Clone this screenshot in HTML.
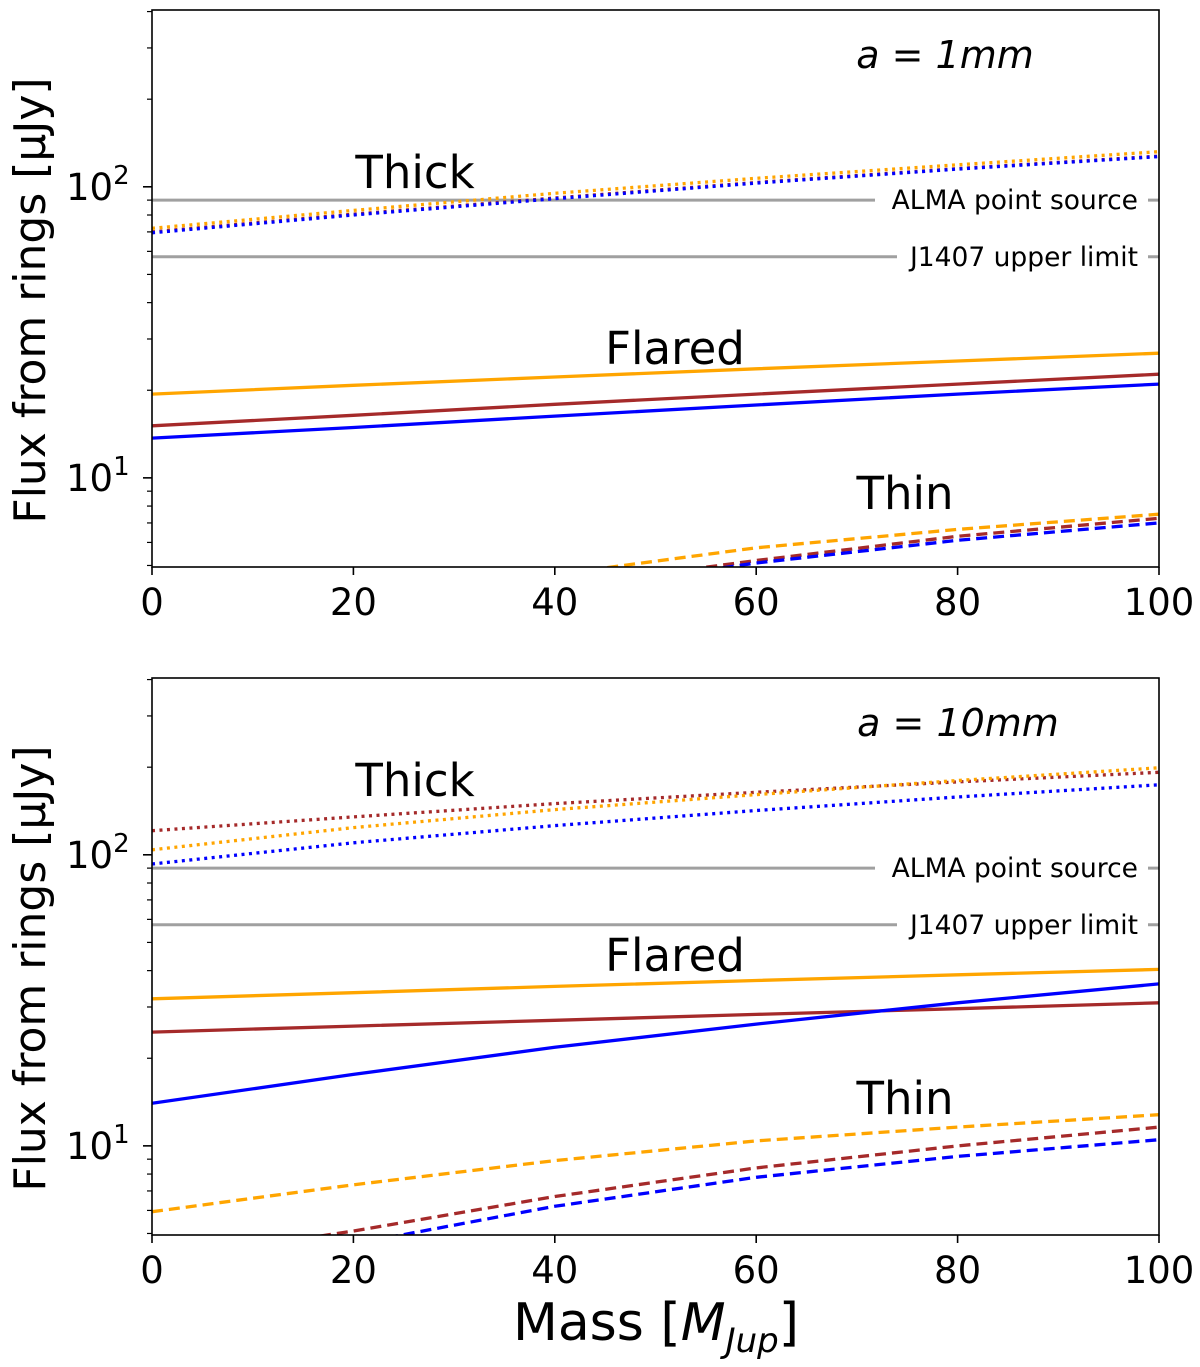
<!DOCTYPE html>
<html><head><meta charset="utf-8"><style>
html,body{margin:0;padding:0;background:#fff;width:1200px;height:1367px;overflow:hidden}
svg text{font-family:"DejaVu Sans","Liberation Sans",sans-serif}
</style></head><body>
<svg id="chart" width="1200" height="1367" xmlns="http://www.w3.org/2000/svg"></svg>
<script>
const masses = [0, 20, 40, 60, 80, 100];
const xTicks = [0, 20, 40, 60, 80, 100];
const refAlma = 90;
const refJ1407 = 57.5;
// panel a=1mm
const p1ThickOrange = [72, 83, 95, 107, 119, 132];
const p1ThickBrown = [70, 80.5, 91.5, 103.5, 115.5, 127.5];
const p1ThickBlue = [69.5, 80, 91, 103, 115, 127];
const p1FlaredOrange = [19.4, 20.8, 22.2, 23.7, 25.2, 26.8];
const p1FlaredBrown = [15.1, 16.4, 17.9, 19.4, 21.0, 22.7];
const p1FlaredBlue = [13.7, 14.9, 16.3, 17.8, 19.4, 21.0];
const p1ThinOrange = [3.1, 3.8, 4.65, 5.75, 6.65, 7.5];
const p1ThinBrown = [2.5, 3.2, 4.2, 5.2, 6.3, 7.26];
const p1ThinBlue = [2.4, 3.1, 4.05, 5.1, 6.1, 7.0];
// panel a=10mm
const p2ThickOrange = [104, 124, 143, 161, 180, 199];
const p2ThickBrown = [121, 135, 150, 164, 178, 192];
const p2ThickBlue = [93, 110, 126, 142, 158, 174];
const p2FlaredOrange = [32, 33.6, 35.3, 37.0, 38.7, 40.4];
const p2FlaredBrown = [24.6, 25.8, 27.0, 28.3, 29.6, 31.0];
const p2FlaredBlue = [14, 17.6, 21.8, 26.2, 31, 36];
const p2ThinOrange = [5.94, 7.35, 8.9, 10.4, 11.6, 12.8];
const p2ThinBrown = [4.0, 5.1, 6.7, 8.4, 10.0, 11.6];
const p2ThinBlue = [3.6, 4.6, 6.2, 7.8, 9.2, 10.5];

const NS = "http://www.w3.org/2000/svg";
const svg = document.getElementById('chart');
const X0 = 152, X1 = 1159, YMIN = 4.94, YMAX = 405;
const ORANGE = '#ffa500', BROWN = '#a52a2a', BLUE = '#0000ff', GRAY = '#a0a0a0';
function mk(tag, attrs, parent) {
  const e = document.createElementNS(NS, tag);
  for (const k in attrs) e.setAttribute(k, attrs[k]);
  (parent || svg).appendChild(e);
  return e;
}
function panel(top, bottom, label, series, idx) {
  const g = mk('g', {});
  
  
  const xs = v => X0 + (v - 0) / 100 * (X1 - X0);
  const ys = v => bottom - (Math.log10(v) - Math.log10(YMIN)) / (Math.log10(YMAX) - Math.log10(YMIN)) * (bottom - top);
  const cid = 'clip' + idx;
  const cp = mk('clipPath', { id: cid }, g);
  mk('rect', { x: X0, y: top, width: X1 - X0, height: bottom - top }, cp);
  const plot = mk('g', { 'clip-path': 'url(#' + cid + ')' }, g);
  const refs = [[refAlma, 'ALMA point source', 875], [refJ1407, 'J1407 upper limit', 897]];
  refs.forEach(([v, t, end], i) => {
    const y = ys(v);
    const l1 = mk('line', { x1: X0, x2: end, y1: y, y2: y, stroke: GRAY, 'stroke-width': 3 }, plot);
    
    
    mk('line', { x1: 1148, x2: X1, y1: y, y2: y, stroke: GRAY, 'stroke-width': 3 }, plot);
    const tx = mk('text', { x: 1138, y: y + 9, 'text-anchor': 'end', 'font-size': 26.5, fill: '#000' }, g);
    tx.textContent = t;
    
    
  });
  series.forEach(s => {
    const pts = masses.map((m, i) => xs(m).toFixed(1) + ',' + ys(s.data[i]).toFixed(1)).join(' ');
    const dash = s.style === 'dot' ? '3,4.5' : s.style === 'dash' ? '11,6' : 'none';
    const pl = mk('polyline', { points: pts, fill: 'none', stroke: s.color, 'stroke-width': 3.3, 'stroke-dasharray': dash, 'stroke-linejoin': 'round' }, plot);
    
    
  });
  const fr = mk('rect', { x: X0, y: top, width: X1 - X0, height: bottom - top, fill: 'none', stroke: '#000', 'stroke-width': 1.6 }, g);
  
  
  xTicks.forEach(t => {
    const x = xs(t);
    mk('line', { x1: x, x2: x, y1: bottom, y2: bottom + 8, stroke: '#000', 'stroke-width': 1.6 }, g);
    const tx = mk('text', { x: x, y: bottom + 48, 'text-anchor': 'middle', 'font-size': 37 }, g);
    tx.textContent = t;
    
    
  });
  [10, 100].forEach((v, i) => {
    const y = ys(v);
    mk('line', { x1: X0 - 9, x2: X0, y1: y, y2: y, stroke: '#000', 'stroke-width': 1.6 }, g);
    const tx = mk('text', { x: 66, y: y + 13, 'font-size': 37 }, g);
    tx.textContent = '10';
    const sup = mk('tspan', { dy: -16, 'font-size': 26 }, tx);
    sup.textContent = i ? '2' : '1';
    
    
  });
  for (let d = 0; d < 3; d++) for (let k = 2; k <= 9; k++) {
    const v = k * Math.pow(10, d);
    if (v < YMIN || v > YMAX) continue;
    const y = ys(v);
    mk('line', { x1: X0 - 5, x2: X0, y1: y, y2: y, stroke: '#000', 'stroke-width': 1.2 }, g);
  }
  const ylab = mk('text', { x: 0, y: 0, 'font-size': 44, 'text-anchor': 'middle', transform: 'translate(45,' + ((top + bottom) / 2 + 12) + ') rotate(-90)' }, g);
  ylab.textContent = 'Flux from rings [μJy]';
  
  
  label.forEach(a => {
    const tx = mk('text', { x: a[1], y: a[2], 'text-anchor': 'middle', 'font-size': a[3] || 44, 'font-style': a[4] || 'normal' }, g);
    tx.textContent = a[0];
    
    
  });
}
panel(10, 567, [
  ['Thick', 415, 188, 45, 'normal', 'thick-label'],
  ['Flared', 675, 364, 45, 'normal', 'flared-label'],
  ['Thin', 905, 509, 45, 'normal', 'thin-label'],
  ['a = 1mm', 945, 68, 38, 'italic', 'grain-size-label']
], [
  { name: 'thick-brown', color: BROWN, style: 'dot', data: p1ThickBrown },
  { name: 'thick-orange', color: ORANGE, style: 'dot', data: p1ThickOrange },
  { name: 'thick-blue', color: BLUE, style: 'dot', data: p1ThickBlue },
  { name: 'flared-orange', color: ORANGE, style: 'solid', data: p1FlaredOrange },
  { name: 'flared-brown', color: BROWN, style: 'solid', data: p1FlaredBrown },
  { name: 'flared-blue', color: BLUE, style: 'solid', data: p1FlaredBlue },
  { name: 'thin-orange', color: ORANGE, style: 'dash', data: p1ThinOrange },
  { name: 'thin-brown', color: BROWN, style: 'dash', data: p1ThinBrown },
  { name: 'thin-blue', color: BLUE, style: 'dash', data: p1ThinBlue }
], 1);
panel(678, 1235, [
  ['Thick', 415, 796, 45, 'normal', 'thick-label'],
  ['Flared', 675, 971, 45, 'normal', 'flared-label'],
  ['Thin', 905, 1114, 45, 'normal', 'thin-label'],
  ['a = 10mm', 958, 736, 38, 'italic', 'grain-size-label']
], [
  { name: 'thick-brown', color: BROWN, style: 'dot', data: p2ThickBrown },
  { name: 'thick-orange', color: ORANGE, style: 'dot', data: p2ThickOrange },
  { name: 'thick-blue', color: BLUE, style: 'dot', data: p2ThickBlue },
  { name: 'flared-orange', color: ORANGE, style: 'solid', data: p2FlaredOrange },
  { name: 'flared-brown', color: BROWN, style: 'solid', data: p2FlaredBrown },
  { name: 'flared-blue', color: BLUE, style: 'solid', data: p2FlaredBlue },
  { name: 'thin-orange', color: ORANGE, style: 'dash', data: p2ThinOrange },
  { name: 'thin-brown', color: BROWN, style: 'dash', data: p2ThinBrown },
  { name: 'thin-blue', color: BLUE, style: 'dash', data: p2ThinBlue }
], 2);
const xl = mk('text', { x: 656, y: 1340, 'text-anchor': 'middle', 'font-size': 52 });
xl.innerHTML = 'Mass [<tspan font-style="italic">M</tspan><tspan font-style="italic" font-size="34" dy="12">Jup</tspan><tspan dy="-12">]</tspan>';


</script>
</body></html>
